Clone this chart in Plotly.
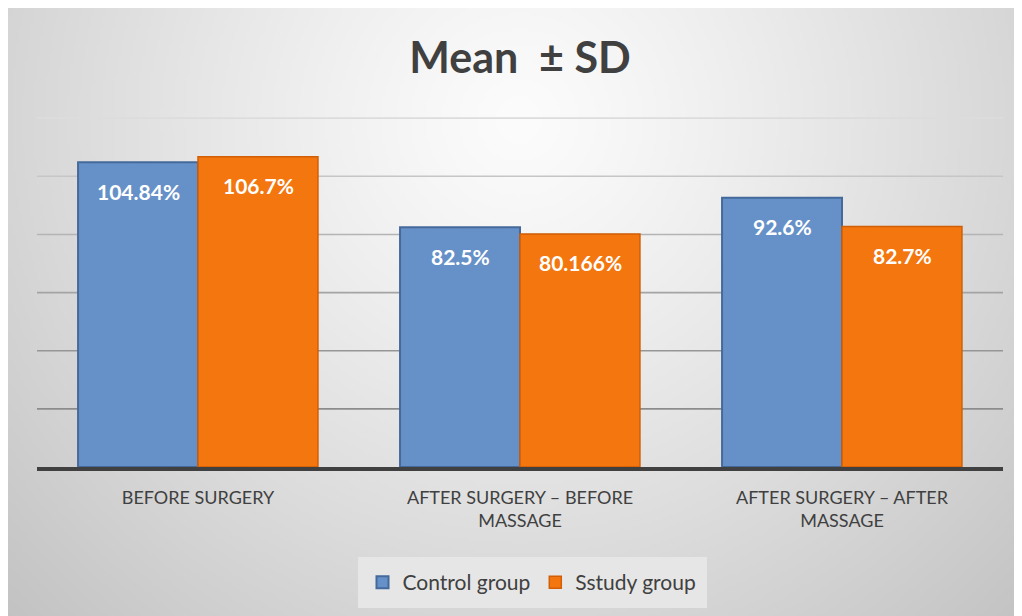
import base64, struct, zlib
import numpy as np
import plotly.graph_objects as go

categories = ["BEFORE SURGERY", "AFTER SURGERY – BEFORE<br>MASSAGE", "AFTER SURGERY – AFTER<br>MASSAGE"]
control_values = [104.84, 82.5, 92.6]
study_values = [106.7, 80.166, 82.7]
control_labels = ["104.84%", "82.5%", "92.6%"]
study_labels = ["106.7%", "80.166%", "82.7%"]
series_names = ["Control group", "Sstudy group"]
title_text = "Mean  ± SD"
grid_values = [20, 40, 60, 80, 100, 120]

FONT = "Lato"
BLUE = "#6691c8"
BLUE_EDGE = "#44699a"
ORANGE = "#f3760f"
ORANGE_EDGE = "#d25e05"
GRID_COLORS = ["#8c8c8c", "#969696", "#a4a4a4", "#b4b4b4", "#c6c6c6", "#dcdcdc"]

# page is offset by the 8px body margin; figure coords = page coords - 8
OFF = 8

# ---- radial grey gradient background as an inline PNG ----
def png_uri(arr):
    h, w, _ = arr.shape
    raw = b"".join(b"\x00" + arr[i].tobytes() for i in range(h))
    def chunk(t, d):
        c = struct.pack(">I", len(d)) + t + d
        return c + struct.pack(">I", zlib.crc32(t + d) & 0xffffffff)
    png = b"\x89PNG\r\n\x1a\n" + chunk(b"IHDR", struct.pack(">IIBBBBB", w, h, 8, 2, 0, 0, 0)) \
        + chunk(b"IDAT", zlib.compress(raw, 9)) + chunk(b"IEND", b"")
    return "data:image/png;base64," + base64.b64encode(png).decode()

W, H = 340, 204
xs = np.linspace(0, 1, W)[None, :]
ys = np.linspace(0, 1, H)[:, None]
r = np.sqrt(((xs - 0.5) / 0.5) ** 2 + ((ys - 0.18) / 0.82) ** 2)
v = np.clip(252 - 38 * r ** 1.2, 0, 255).astype(np.uint8)
img = np.stack([v, v, v], axis=-1)
bg_uri = png_uri(img)

fig = go.Figure()
fig.add_trace(go.Bar(x=categories, y=control_values, name=series_names[0],
                     marker=dict(color=BLUE, line=dict(color=BLUE_EDGE, width=2))))
fig.add_trace(go.Bar(x=categories, y=study_values, name=series_names[1],
                     marker=dict(color=ORANGE, line=dict(color=ORANGE_EDGE, width=1.5))))

annotations = []
for i, c in enumerate(categories):
    annotations.append(dict(x=c, y=control_values[i], xref="x", yref="y", text=control_labels[i],
                            showarrow=False, xshift=-60, yshift=-29,
                            font=dict(family=FONT, size=21, color="white", weight="bold")))
    annotations.append(dict(x=c, y=study_values[i], xref="x", yref="y", text=study_labels[i],
                            showarrow=False, xshift=60, yshift=-29,
                            font=dict(family=FONT, size=21, color="white", weight="bold")))

for gv, gc in zip(grid_values, GRID_COLORS):
    fig.add_hline(y=gv, line=dict(color=gc, width=1.6), layer="below")

FW, FH = 1022, 616
L = 37 - OFF
T = 117 - OFF
R = FW - (1003 - OFF)
B = FH - (467 - OFF)
PW, PH = FW - L - R, FH - T - B

fig.update_layout(
    width=FW, height=FH,
    margin=dict(l=L, r=R, t=T, b=B, pad=0),
    paper_bgcolor="white",
    plot_bgcolor="rgba(0,0,0,0)",
    barmode="group", bargap=0.255, bargroupgap=0.0,
    title=dict(text=title_text, x=(520 - OFF) / FW, xanchor="center", y=1 - (58 - OFF) / FH,
               yanchor="middle",
               font=dict(family=FONT, size=43, color="#404040", weight="bold")),
    showlegend=True,
    legend=dict(orientation="h", x=(532 - OFF - L) / PW, xanchor="center",
                y=-(557 - 467) / PH, yanchor="top", bgcolor="#e6e6e6",
                bordercolor="#e6e6e6", borderwidth=5,
                font=dict(family=FONT, size=21, color="#404040"),
                itemwidth=30),
    images=[dict(source=bg_uri, xref="paper", yref="paper",
                 x=-L / PW, y=(FH - B) / PH, sizex=FW / PW, sizey=FH / PH,
                 xanchor="left", yanchor="top", sizing="stretch", layer="below")],
    annotations=annotations,
    xaxis=dict(showline=True, linecolor="#404040", linewidth=4, ticks="", showgrid=False,
               tickfont=dict(family=FONT, size=18, color="#404040"), zeroline=False,
               ticklabelstandoff=11),
    yaxis=dict(range=[0, 120.4], showticklabels=False, ticks="", showgrid=False,
               zeroline=False, showline=False),
)

fig.write_html("out.html")
